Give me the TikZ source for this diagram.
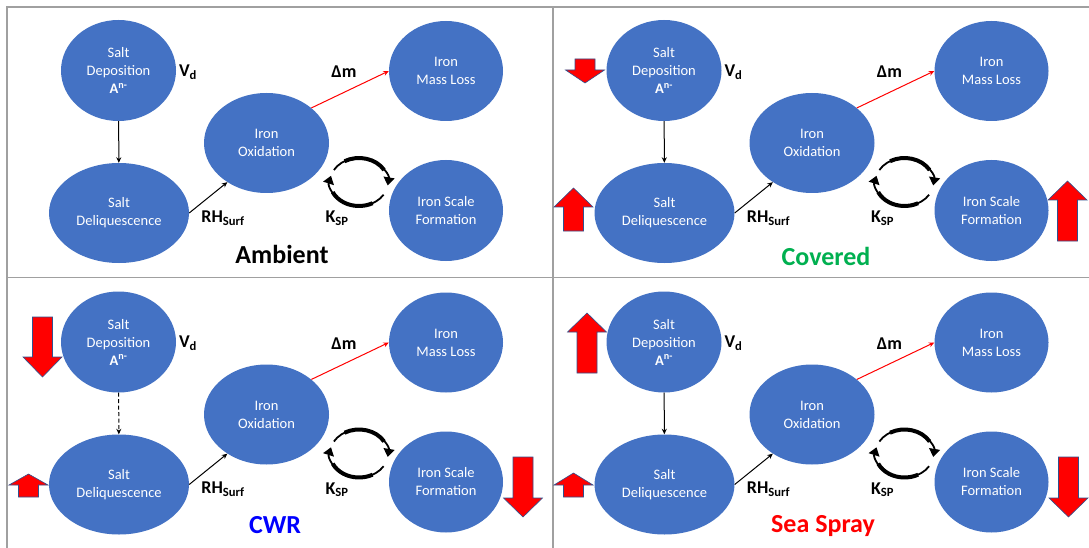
\documentclass[tikz,border=0pt]{standalone}
\usepackage{fontspec}
\setmainfont{Carlito}
\usetikzlibrary{arrows.meta,shapes.geometric}
\definecolor{nodeblue}{HTML}{4472C4}
\definecolor{framegray}{HTML}{A0A0A0}
\definecolor{covgreen}{HTML}{00B050}
\definecolor{arrowrim}{HTML}{2F528F}
\tikzset{
  blob/.style={ellipse, fill=nodeblue, text=white, inner sep=0pt, align=center, font=\fontsize{14.5}{18}\selectfont},
  lbl/.style={font=\bfseries\fontsize{18}{20}\selectfont},
  title/.style={font=\bfseries\fontsize{26}{30}\selectfont},
  link/.style={line width=1pt, -{Stealth[length=5.5pt,width=5pt]}},
  cycarrow/.style={line width=1.8pt, -{Triangle[length=8pt,width=11pt]}},
  cycmid/.style={line width=4pt},
}
% red block arrow: tip (x,y), (sign : head length : total length)
\def\blockarrow(#1,#2)(#3:#4:#5){\draw[fill=red, draw=arrowrim, line width=0.6pt] (#1,#2) -- ({#1+19.5},{#2#3#4}) -- ({#1+10},{#2#3#4}) -- ({#1+10},{#2#3#5}) -- ({#1-10},{#2#3#5}) -- ({#1-10},{#2#3#4}) -- ({#1-19.5},{#2#3#4}) -- cycle;}
% one panel of the diagram
\def\panel(#1,#2)#3#4{%
  \begin{scope}[shift={(#1,#2)}, name prefix=#3-]
    \node[blob, minimum width=115pt, minimum height=101pt] (dep) at (118.5,70.5) {Salt\\Deposition\\\textbf{A\textsuperscript{n-}}};
    \node[blob, minimum width=140pt, minimum height=100pt] (deli) at (119,213) {Salt\\Deliquescence};
    \node[blob, minimum width=125pt, minimum height=100pt] (oxi) at (266.5,143) {Iron\\Oxidation};
    \node[blob, minimum width=114pt, minimum height=100pt] (mass) at (446,71) {Iron\\Mass Loss};
    \node[blob, minimum width=114pt, minimum height=101pt] (scale) at (446,210.5) {Iron Scale\\Formation};
    \node[lbl] (vd) at (188,72) {V\textsubscript{d}};
    \node[lbl] (dm) at (344,72) {Δm};
    \node[lbl] (rh) at (223,218) {RH\textsubscript{Surf}};
    \node[lbl] (ksp) at (337,218) {K\textsubscript{SP}};
    \coordinate (cyc) at (359,182);
    \draw[link, #4] (dep) -- (deli);
    \draw[link] (deli.east) -- (oxi.225);
    \draw[link, red] (oxi.38) -- (mass.west);
    \draw[cycarrow] ([shift={(210:29 and 24)}]cyc) arc[start angle=210, end angle=368, x radius=29, y radius=24];
    \draw[cycmid] ([shift={(240:29 and 24)}]cyc) arc[start angle=240, end angle=330, x radius=29, y radius=24];
    \draw[cycarrow] ([shift={(32:29 and 24)}]cyc) arc[start angle=32, end angle=195, x radius=29, y radius=24];
    \draw[cycmid] ([shift={(62:29 and 24)}]cyc) arc[start angle=62, end angle=155, x radius=29, y radius=24];
  \end{scope}}

\begin{document}
\begin{tikzpicture}[x=1pt, y=-1pt]
		%%%%% START %%%%%
		\useasboundingbox (0,0) rectangle (1089,548);
		\fill[white] (0,0) rectangle (1089,548);
		
		\draw[framegray, line width=1.5pt] (7,548) -- (7,7) -- (1089,7);
		\draw[framegray, line width=1.5pt] (553,7) -- (553,548);
		\draw[framegray, line width=1.5pt] (7,277.5) -- (1089,277.5);
		
		\panel(0,0){amb}{}
		\panel(545.5,0){cov}{}
		\panel(0,271.5){cwr}{dash pattern=on 4pt off 2.5pt}
		\panel(545.5,271.5){sea}{}
		
		\node[title] (ambient) at (282,254) {Ambient};
		\node[title, text=covgreen] (covered) at (826,256) {Covered};
		\node[title, text=blue] (cwr) at (275,525) {CWR};
		\node[title, text=red] (seaspray) at (823,526) {Sea Spray};
		
		\blockarrow(585,83)(-:13:24)
		\blockarrow(573.5,188)(+:19:43)
		\blockarrow(1067.5,181)(+:19:60)
		
		\blockarrow(42.5,377)(-:20:60)
		\blockarrow(28.5,474)(+:11:23)
		\blockarrow(523,517)(-:19:60)
		
		\blockarrow(587,313)(+:19:60)
		\blockarrow(573.5,473)(+:12:24)
		\blockarrow(1068.5,517)(-:19:60)
		%%%%% END %%%%%
\end{tikzpicture}
\end{document}
